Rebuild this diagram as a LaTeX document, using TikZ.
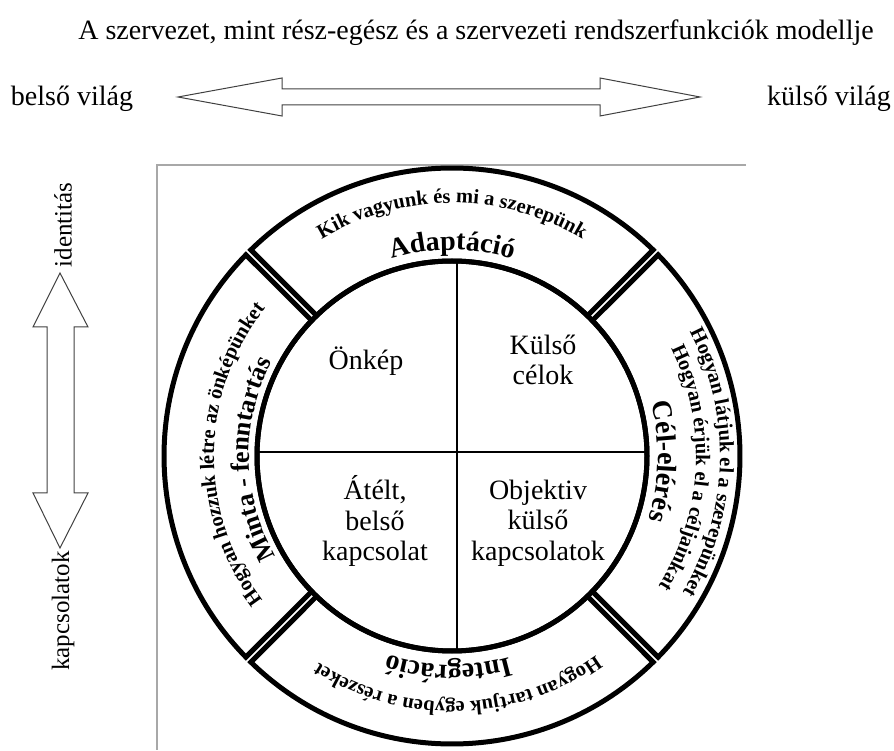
\documentclass[tikz,border=0pt]{standalone}
\usepackage{fontspec}
\setmainfont{Liberation Serif}
\usepackage{tikz}
\usetikzlibrary{decorations.text}
\definecolor{ink}{HTML}{000000}
\definecolor{rule}{HTML}{A8A8A8}
\definecolor{muted}{HTML}{404040}
\newcommand\ringsmall{\bfseries\fontsize{20.5}{24}\selectfont}
\newcommand\ringbig{\bfseries\fontsize{28}{32}\selectfont}
\newcommand\ringmid{\bfseries\fontsize{26}{30}\selectfont}

\begin{document}
\begin{tikzpicture}[
  x=1pt,y=1pt,
  every node/.style={font=\fontsize{28}{30.5}\selectfont,inner sep=0pt,text=ink},
  segment/.style={draw=ink,fill=white,line width=5pt,line join=miter},
  hub/.style={draw=ink,line width=5pt},
  quad/.style={draw=ink,line width=2pt},
  blockarrow/.style={draw=muted,line width=1pt,line join=miter},
  framerule/.style={draw=rule,line width=1.5pt},
  sidelabel/.style={font=\fontsize{25}{28}\selectfont,rotate=90},
  arctext/.style={decorate,decoration={text along path,text align=center,text={#1}}}
]
\useasboundingbox (0,0) rectangle (894,750);
\coordinate (ctr) at (452,294);
\coordinate (cross) at (457,298);

\node[anchor=base] (title) at (476,710) {A szervezet, mint rész-egész és a szervezeti rendszerfunkciók modellje};
\node[anchor=base] (belso) at (72,644) {belső világ};
\node[anchor=base] (kulso) at (829,644) {külső világ};
\draw[blockarrow] (178,653) -- (282,672) -- (282,661) -- (600,661) -- (600,672) -- (700,653)
  -- (600,634) -- (600,645) -- (282,645) -- (282,634) -- cycle;

\node[sidelabel] (ident) at (63,525) {identitás};
\node[sidelabel] (kapcs) at (63,139) {kapcsolatok};
\draw[blockarrow] (60,477) -- (88,423) -- (74,423) -- (74,257) -- (88,257) -- (60,202)
  -- (33,257) -- (47,257) -- (47,423) -- (33,423) -- cycle;

\draw[framerule] (746,585) -- (157,585) -- (157,0);

\begin{scope}[shift={(ctr)}]
\foreach \a in {90,0,-90,180}
  \draw[segment] ({\a-43.97}:195) arc[start angle=\a-43.97,end angle=\a+43.97,radius=195]
    -- ({\a+44.3}:288) arc[start angle=\a+44.3,end angle=\a-44.3,radius=288] -- cycle;
\begin{scope}
\clip (0,0) circle[radius=195];
\draw[quad] ([yshift=-210pt]cross) -- ([yshift=210pt]cross);
\draw[quad] ([xshift=-210pt]cross) -- ([xshift=210pt]cross);
\end{scope}
\draw[hub] (0,0) circle[radius=195];

\path[arctext={|\ringsmall|Kik vagyunk és mi a szerepünk}] (140:253) arc[start angle=140,end angle=40,radius=253];
\path[arctext={|\ringbig|Adaptáció}] (125:206) arc[start angle=125,end angle=55,radius=206];
\path[arctext={|\ringsmall|Hogyan látjuk el a szerepünket}] (49:268) arc[start angle=49,end angle=-52,radius=268];
\path[arctext={|\ringsmall|Hogyan érjük el a céljainkat}] (47:244) arc[start angle=47,end angle=-53,radius=244];
\path[arctext={|\ringbig|Cél-elérés}] (33:206) arc[start angle=33,end angle=-36,radius=206];
\path[arctext={|\ringsmall|Hogyan tartjuk egyben a részeket}] (-37:246) arc[start angle=-37,end angle=-140,radius=246];
\path[arctext={|\ringbig|Integráció}] (-58:209) arc[start angle=-58,end angle=-124,radius=209];
\path[arctext={|\ringsmall|Hogyan hozzuk létre az önképünket}] (227:238) arc[start angle=227,end angle=132,radius=238];
\path[arctext={|\ringmid|Minta - fenntartás}] (220:203) arc[start angle=220,end angle=142,radius=203];
\end{scope}

\node[anchor=base] (onkep) at (366,380) {Önkép};
\node[align=center] (celok) at (543,390) {Külső\\célok};
\node[align=center] (atelt) at (375,229) {Átélt,\\belső\\kapcsolat};
\node[align=center] (objektiv) at (538,227) {Objektiv\\külső\\kapcsolatok};
\end{tikzpicture}
\end{document}
